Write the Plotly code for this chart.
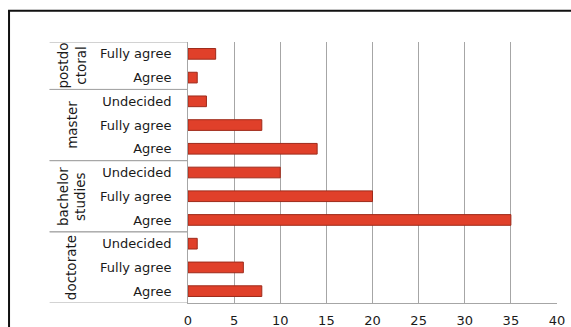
import plotly.graph_objects as go

# Survey answers grouped by study level (bottom to top on the chart)
groups = ["doctorate", "bachelor studies", "master", "postdoctoral"]
group_titles = ["doctorate", "bachelor<br>studies", "master", "postdo<br>ctoral"]
answers = [
    ["Agree", "Fully agree", "Undecided"],
    ["Agree", "Fully agree", "Undecided"],
    ["Agree", "Fully agree", "Undecided"],
    ["Agree", "Fully agree"],
]
counts = [
    [8, 6, 1],
    [35, 20, 10],
    [14, 8, 2],
    [1, 3],
]
x_ticks = [0, 5, 10, 15, 20, 25, 30, 35, 40]

# Flatten into positions along a numeric y axis
labels, values, positions = [], [], []
bounds = []
pos = 0
for ans, cnt in zip(answers, counts):
    start = pos
    for a, c in zip(ans, cnt):
        labels.append(a)
        values.append(c)
        positions.append(pos)
        pos += 1
    bounds.append((start - 0.5, pos - 0.5))

BAR = "#E0402A"
GRID = "#A6A6A6"
FONT = "DejaVu Sans"
TXT = "#1a1a1a"

fig = go.Figure()
fig.add_trace(go.Bar(
    x=values, y=positions, orientation="h",
    marker=dict(color=BAR, line=dict(color="#9E2A1A", width=1)),
    width=0.45, hoverinfo="x+text", text=labels, textposition="none",
))

shapes = []
annotations = []
label_left = -0.375  # in paper units, left end of the category dividers
for (lo, hi), title in zip(bounds, group_titles):
    # divider lines above and below each group
    for yv in (lo, hi):
        shapes.append(dict(type="line", xref="paper", yref="y",
                           x0=label_left, x1=0, y0=yv, y1=yv,
                           line=dict(color=GRID, width=1)))
    annotations.append(dict(text=title, xref="paper", yref="y",
                            x=-0.315, y=(lo + hi) / 2, showarrow=False,
                            textangle=-90, xanchor="center", yanchor="middle",
                            font=dict(family=FONT, size=13.5, color=TXT),
                            align="center"))

# outer frame of the chart area
shapes.append(dict(type="rect", xref="paper", yref="paper",
                   x0=-0.485, x1=1.2, y0=-0.5, y1=1.12,
                   line=dict(color="#111111", width=2), layer="above"))

fig.update_layout(
    width=571, height=327,
    margin=dict(l=188, r=14, t=42, b=24),
    paper_bgcolor="white", plot_bgcolor="white",
    showlegend=False, bargap=0.55,
    font=dict(family=FONT, size=13, color=TXT),
    shapes=shapes, annotations=annotations,
)
fig.update_xaxes(
    range=[0, 40], tickvals=x_ticks, showgrid=True, gridcolor=GRID,
    gridwidth=1, zeroline=False, showline=True, linecolor=GRID,
    ticks="", ticklabelstandoff=5, automargin=False,
    tickfont=dict(family=FONT, size=13, color=TXT),
    fixedrange=True,
)
fig.update_yaxes(
    range=[-0.5, len(values) - 0.5], tickvals=positions, ticktext=labels,
    showgrid=False, zeroline=False, showline=True, linecolor=GRID,
    ticks="", ticklabelstandoff=13, automargin=False,
    tickfont=dict(family=FONT, size=13, color=TXT),
    fixedrange=True,
)

fig.write_html("out.html", config={"displayModeBar": False})
